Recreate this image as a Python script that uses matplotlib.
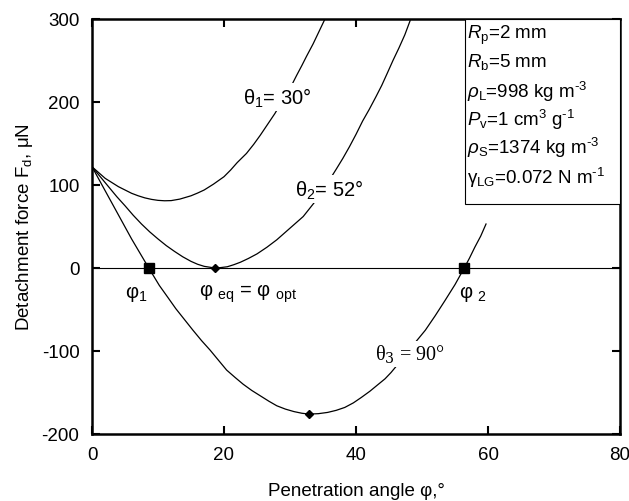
import matplotlib
matplotlib.use("Agg")
import matplotlib.pyplot as plt
from matplotlib.patches import Rectangle

plt.rcParams['font.family'] = ['Liberation Sans', 'DejaVu Sans']
plt.rcParams['mathtext.fontset'] = 'custom'
plt.rcParams['mathtext.rm'] = 'Liberation Sans'
plt.rcParams['mathtext.it'] = 'Liberation Sans:italic'
plt.rcParams['mathtext.bf'] = 'Liberation Sans:bold'
plt.rcParams['axes.unicode_minus'] = False

# ---- data ----
theta1_x = [0, 1, 2, 3, 4, 5, 6, 7, 8, 9, 10, 11, 12, 13.3, 15, 16, 17, 18.4, 20, 21, 22, 23.4,
            24.5, 25.5, 26.6, 27.7, 28.6, 29.5, 30.3, 31, 31.8, 32.5, 33.5, 34.4, 35.3]
theta1_y = [122, 115, 108, 103, 98, 94, 90, 87, 84.5, 82.7, 81.5, 81, 81.2, 83, 87, 90.3, 94, 101,
            110, 118, 127, 138, 149, 160, 173, 186, 198, 210, 221, 232, 244, 255, 270, 285, 300]

theta2_x = [0, 1.25, 2.5, 3.75, 5, 6.25, 7.5, 8.75, 10, 11.25, 12.5, 13.75, 15, 16, 17, 18.6, 19.5,
            20.5, 21.5, 22.5, 23.7, 25, 26.5, 28, 29, 30, 31, 32, 33, 34, 35.5, 37, 38, 39, 40, 41,
            42, 43, 43.9, 44.7, 45.6, 46.5, 47.4, 48.2]
theta2_y = [122, 110, 98, 86, 75, 63.5, 53, 43.5, 35, 27, 20, 13.5, 8, 4.5, 2, 0, 0.5,
            1.5, 4, 7, 11.5, 17, 25, 34, 41, 48, 55, 62, 72, 82, 100, 119, 132, 146, 161, 177,
            191, 206, 220, 234, 250, 265, 281, 298]

theta3_x = [0, 2, 4, 6, 7.3, 8.6, 9.4, 10.2, 11.5, 12.7, 14, 15.3, 16.6, 17.9, 19.2, 20.4, 21.7,
            22.9, 24.2, 25.5, 26.8, 28.0, 29.3, 30.6, 31.8, 32.9, 34.3, 35.7, 37.0, 38.3, 39.6,
            40.8, 42.1, 43.4, 44.4, 45.3, 46.4, 47.5, 49.0, 50.5, 52.0, 53.5, 55.0, 56.4, 57.2,
            58, 58.9, 59.7]
theta3_y = [122, 93, 64, 35, 17.5, 0, -10.5, -21, -35.5, -49, -62, -75, -87.5, -99, -111.5, -123,
            -132, -140, -147.5, -154, -160.5, -166, -170, -173, -175, -176, -175.5, -174, -171.5,
            -168, -162.5, -156, -148.5, -140, -133.5, -126, -115.5, -104, -89.5, -75, -57.5, -39,
            -20, 0, 12, 25, 38.5, 53]

square_x = [8.6, 56.4]
square_y = [0, 0]
diamond_x = [18.6, 32.9]
diamond_y = [0, -176]

x_ticks = [0, 20, 40, 60, 80]
y_ticks = [-200, -100, 0, 100, 200, 300]

params = [r'$R_{\rm p}$=2 mm',
          r'$R_{\rm b}$=5 mm',
          r'$\rho_{\rm L}$=998 kg m$^{\text{-3}}$',
          r'$P_{\rm v}$=1 cm$^{\rm 3}$ g$^{\text{-1}}$',
          r'$\rho_{\rm S}$=1374 kg m$^{\text{-3}}$',
          r'$\mathrm{γ}_{\rm LG}$=0.072 N m$^{\text{-1}}$']

# ---- figure ----
fig = plt.figure(figsize=(6.29, 5.02), dpi=100)
ax = fig.add_axes([92/629, 67/502, 528/629, 415/502])

ax.axhline(0, color='k', lw=0.8, zorder=1)
for xs, ys in [(theta1_x, theta1_y), (theta2_x, theta2_y), (theta3_x, theta3_y)]:
    ax.plot(xs, ys, color='k', lw=0.9, zorder=2)

ax.plot(square_x, square_y, 's', color='k', ms=7, zorder=4)
ax.plot(diamond_x, diamond_y, 'D', color='k', ms=4.5, zorder=4)

ax.set_xlim(0, 80)
ax.set_ylim(-200, 300)
ax.set_xticks(x_ticks)
ax.set_yticks(y_ticks)
ax.tick_params(direction='in', top=True, right=True, length=6, width=1.5,
               labelsize=13.5, pad=9)
for sp in ax.spines.values():
    sp.set_linewidth(1.8)

ax.set_xlabel('Penetration angle φ,°', fontsize=13.5, labelpad=13)
ax.set_ylabel(r'Detachment force F$_{\rm d}$, μN', fontsize=13.5, labelpad=5)

bb = dict(facecolor='white', edgecolor='none', pad=1.5)
ax.text(28, 206, r'θ$_{1}$= 30°', fontsize=14.5, ha='center', va='center', bbox=bb, zorder=3)
ax.text(36, 95, r'θ$_{2}$= 52°', fontsize=14.5, ha='center', va='center', bbox=bb, zorder=3)
ax.text(48.2, -104, 'θ$_{3}$ = 90°', fontsize=14.5, ha='center', va='center', bbox=bb,
        zorder=3, family='Liberation Serif', math_fontfamily='dejavuserif')
ax.text(6.7, -30, r'φ$_{1}$', fontsize=14.5, ha='center', va='center', zorder=3)
ax.text(23.7, -30, r'φ $_{\rm eq}$ = φ $_{\rm opt}$', fontsize=14.5, ha='center', va='center', zorder=3)
ax.text(57.7, -30, r'φ $_{2}$', fontsize=14.5, ha='center', va='center', zorder=3)

# parameter box
ax.add_patch(Rectangle((56.5, 77), 23.5, 223, facecolor='white', edgecolor='k',
                       lw=0.8, zorder=5))
ypos = [282, 249, 213, 180, 146, 110]
for t, yp in zip(params, ypos):
    ax.text(56.8, yp, t, fontsize=13.5, ha='left', va='center', zorder=6)

fig.savefig('out.png', dpi=100)
